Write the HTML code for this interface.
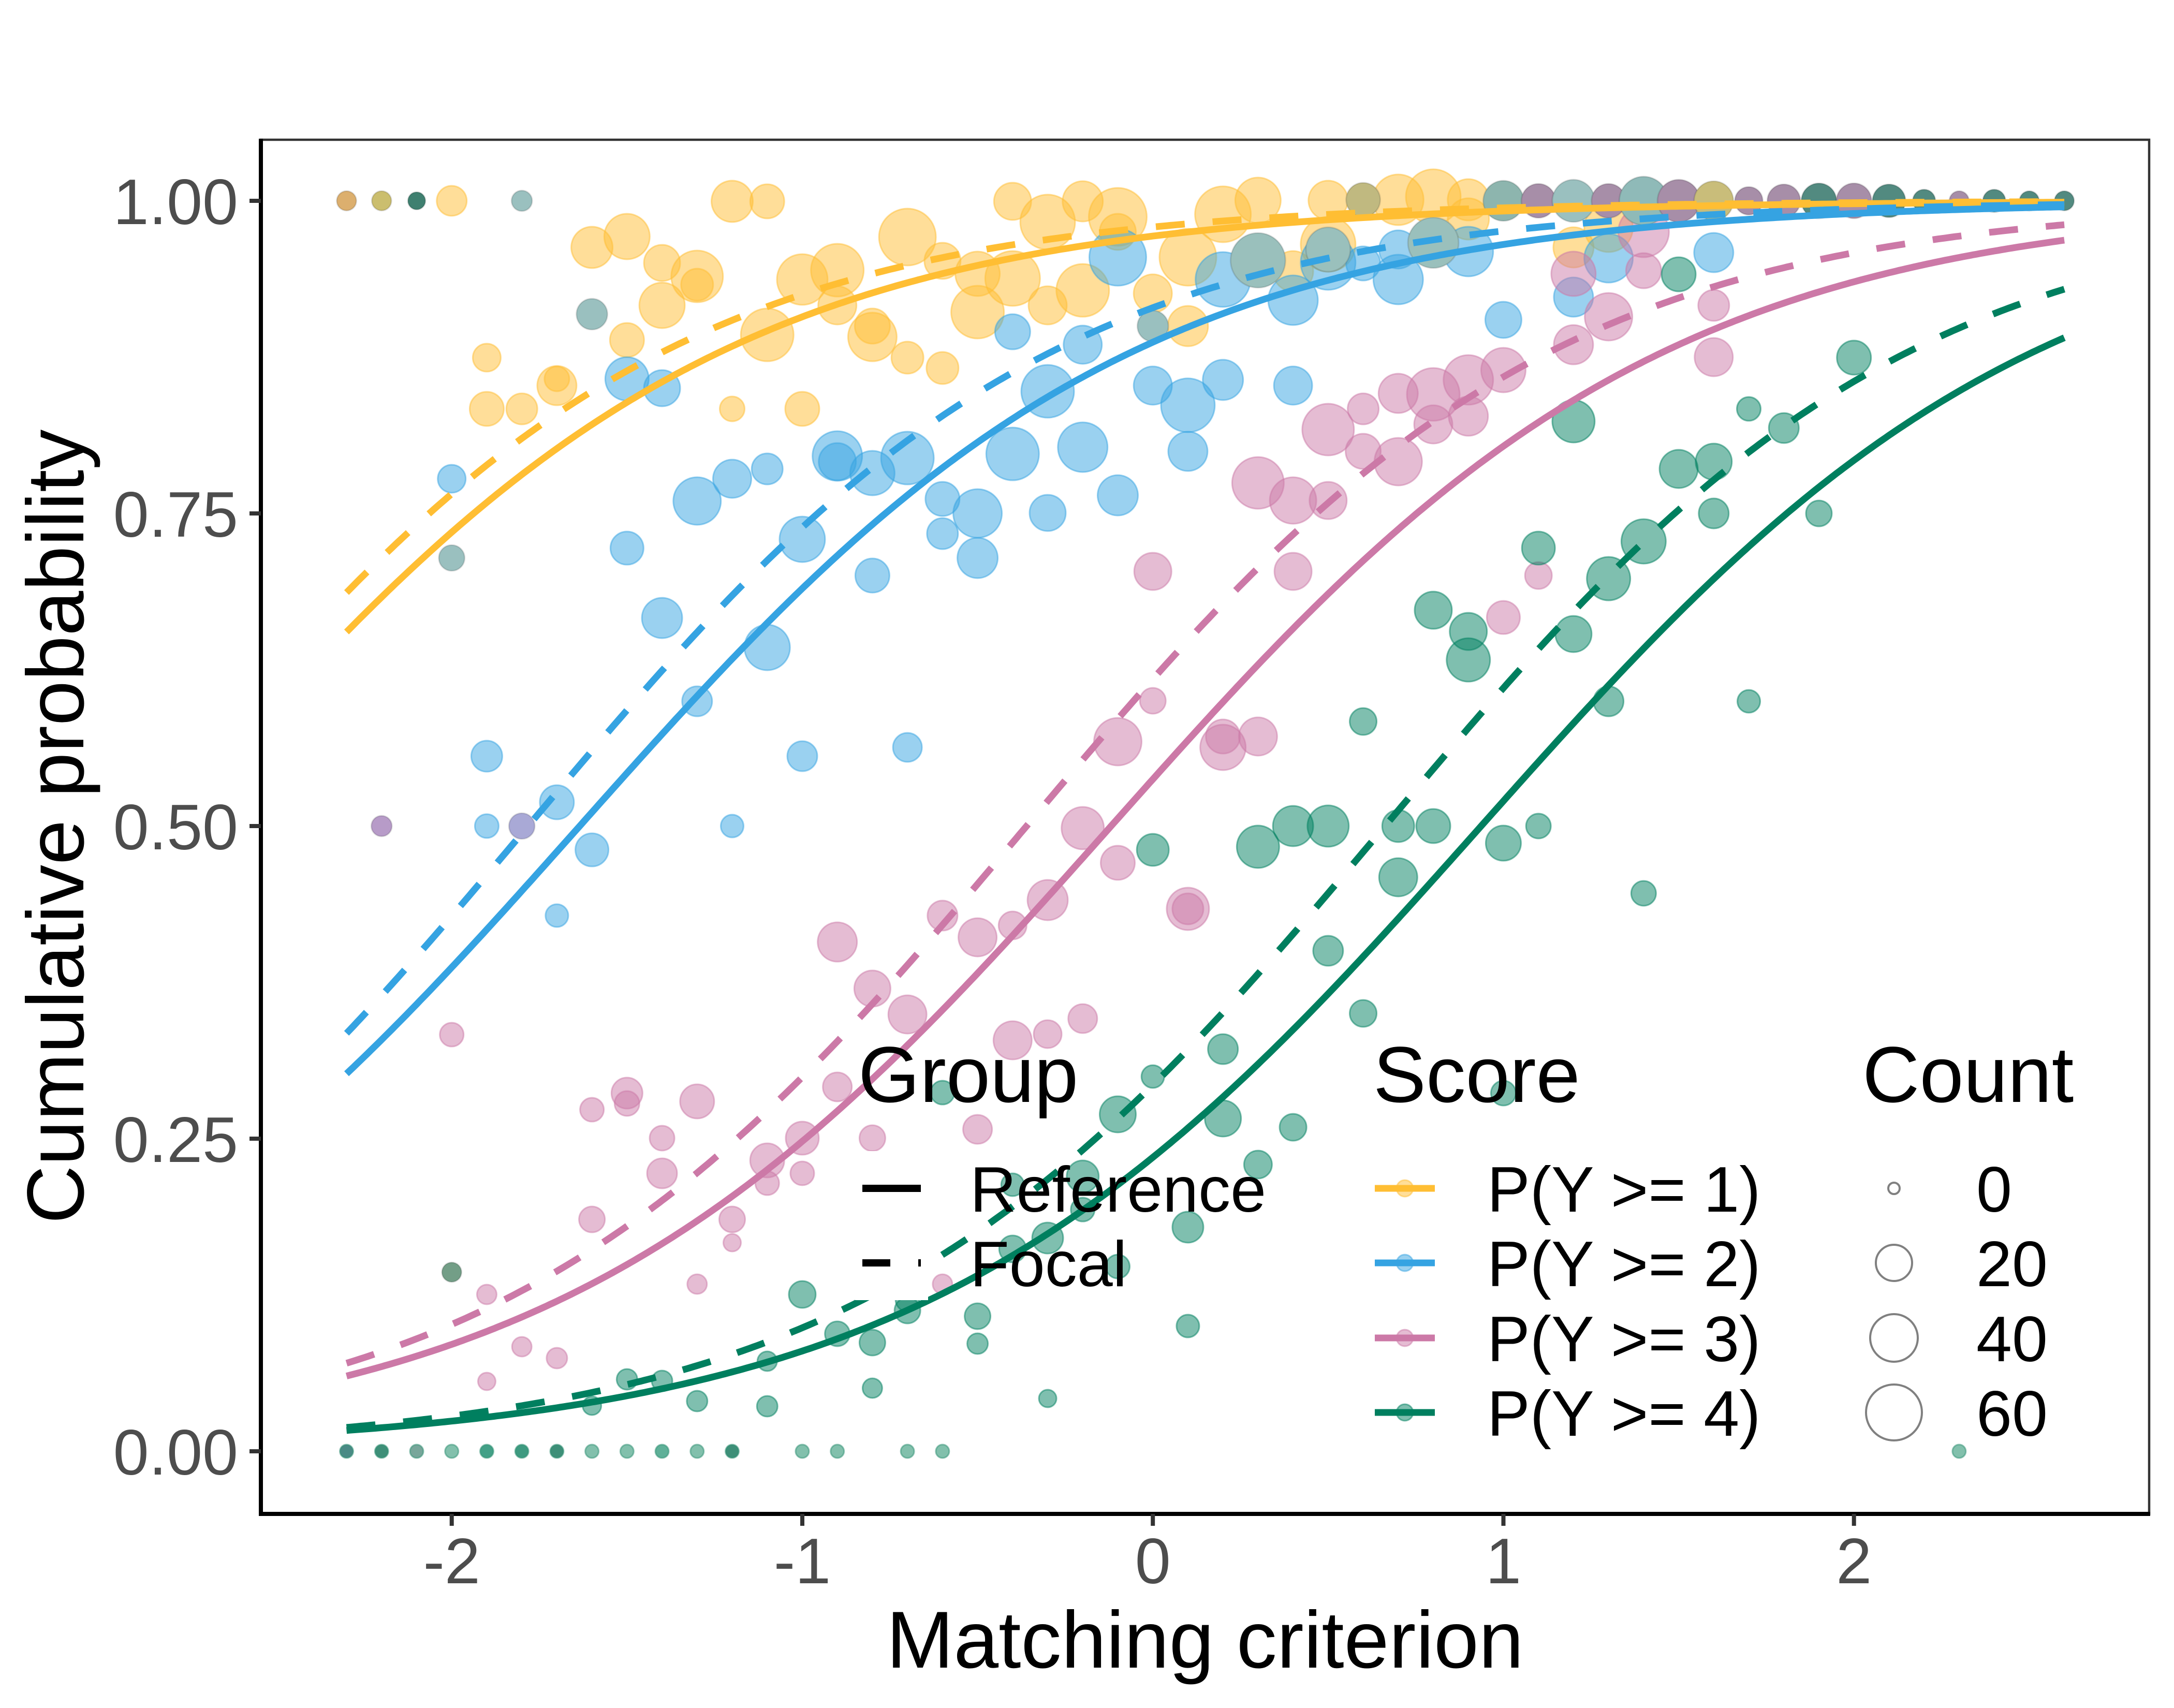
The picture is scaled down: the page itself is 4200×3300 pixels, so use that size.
<!DOCTYPE html>
<html><head><meta charset="utf-8">
<style>
html,body{margin:0;padding:0;background:#fff;}
svg{display:block;}
text{font-family:"Liberation Sans",Arial,sans-serif;}
</style></head>
<body>
<svg id="s" width="4200" height="3300" viewBox="0 0 4200 3300" xmlns="http://www.w3.org/2000/svg">
<rect width="4200" height="3300" fill="#fff"/>
<g id="pts"></g>
<g id="curves"></g>
<rect x="504" y="270" width="3648" height="2655" fill="none" stroke="#333" stroke-width="4.5"/>
<line x1="504" y1="268" x2="504" y2="2929" stroke="#000" stroke-width="8"/>
<line x1="500" y1="2925" x2="4154" y2="2925" stroke="#000" stroke-width="8"/>
<g stroke="#333" stroke-width="8">
<line x1="482" y1="388" x2="504" y2="388"/>
<line x1="482" y1="992" x2="504" y2="992"/>
<line x1="482" y1="1596" x2="504" y2="1596"/>
<line x1="482" y1="2200" x2="504" y2="2200"/>
<line x1="482" y1="2804" x2="504" y2="2804"/>
<line x1="872.7" y1="2925" x2="872.7" y2="2948"/>
<line x1="1550" y1="2925" x2="1550" y2="2948"/>
<line x1="2227.2" y1="2925" x2="2227.2" y2="2948"/>
<line x1="2904.5" y1="2925" x2="2904.5" y2="2948"/>
<line x1="3581.7" y1="2925" x2="3581.7" y2="2948"/>
</g>
<g font-size="124" fill="#4D4D4D" text-anchor="end">
<text x="460" y="433">1.00</text>
<text x="460" y="1037">0.75</text>
<text x="460" y="1641">0.50</text>
<text x="460" y="2245">0.25</text>
<text x="460" y="2849">0.00</text>
</g>
<g font-size="124" fill="#4D4D4D" text-anchor="middle">
<text x="872.7" y="3059">-2</text>
<text x="1550" y="3059">-1</text>
<text x="2227.2" y="3059">0</text>
<text x="2904.5" y="3059">1</text>
<text x="3581.7" y="3059">2</text>
</g>
<text x="2328" y="3222" font-size="156" fill="#000" text-anchor="middle">Matching criterion</text>
<text transform="translate(161,1597) rotate(-90)" font-size="156" fill="#000" text-anchor="middle">Cumulative probability</text>

<!-- legend key backgrounds -->
<g fill="#fff">
<rect x="1652" y="2224" width="141" height="288"/>
<rect x="2642" y="2224" width="144" height="577"/>
<rect x="3587" y="2224" width="144" height="577"/>
</g>
<g id="legend"></g>
<g font-size="153" fill="#000">
<text x="1658" y="2129">Group</text>
<text x="2653" y="2129">Score</text>
<text x="3598" y="2129">Count</text>
</g>
<g font-size="124" fill="#000">
<text x="1874" y="2341">Reference</text>
<text x="1874" y="2485">Focal</text>
<text x="2873" y="2341">P(Y &gt;= 1)</text>
<text x="2873" y="2485">P(Y &gt;= 2)</text>
<text x="2873" y="2630">P(Y &gt;= 3)</text>
<text x="2873" y="2774">P(Y &gt;= 4)</text>
<text x="3818" y="2341">0</text>
<text x="3818" y="2485">20</text>
<text x="3818" y="2630">40</text>
<text x="3818" y="2774">60</text>
</g>
</svg>
<script>
(function(){
var NS="http://www.w3.org/2000/svg";
function X(v){return 2227.2+v*677.25;}
function Yp(p){return 2804-p*2416;}
var C={y:'#FFBE33',b:'#35A3E2',p:'#CC79A7',g:'#007F5F'};
function el(tag,attrs,parent){var e=document.createElementNS(NS,tag);for(var k in attrs)e.setAttribute(k,attrs[k]);parent.appendChild(e);return e;}
var pts=document.getElementById('pts');
function cat(k,list){list.forEach(function(d){el('circle',{cx:X(d[0]),cy:d[1],r:d[2],fill:C[k],'fill-opacity':0.5,stroke:C[k],'stroke-opacity':0.5,'stroke-width':3},pts);});}
function comp(list){list.forEach(function(d){el('circle',{cx:X(d[0]),cy:d[1],r:d[2],fill:d[3],stroke:'rgba(0,0,0,0.12)','stroke-width':3},pts);});}

cat('y',[[-2.0,388,29],[-1.2,389,40],[-1.1,389,33],[-1.6,478,40],[-1.5,457,44],[-1.4,508,35],[-1.3,534,50],[-1.3,550,31],[-1.4,590,44],[-1.5,657,33],[-1.9,691,27],[-1.7,745,38],[-1.7,732,24],[-1.9,790,33],[-1.8,790,30],[-1.2,790,24],[-1.0,790,33],[-1.0,540,49],[-0.9,522,51],[-0.9,590,37],[-1.1,647,51],[-0.8,651,47],[-0.8,630,34],
[-0.7,458,55],[-0.4,389,36],[-0.3,429,53],[-0.2,389,39],[-0.1,419,56],[-0.1,448,35],[-0.6,504,35],[-0.5,529,43],[-0.4,538,53],[-0.5,603,51],[-0.3,590,37],[-0.2,561,51],[-0.7,691,31],[-0.6,711,31],[0.0,567,37],[0.1,497,55],[0.1,630,39],[0.2,414,54],[0.3,387,44],[0.5,387,38],[0.5,472,53],[0.4,524,39],[0.7,386,49],[0.8,380,53],[0.9,386,40],[0.9,423,40],[1.2,478,39],[1.3,440,47]]);

cat('b',[[-1.5,732,42],[-1.4,750,35],[-2.0,925,27],[-0.9,881,48],[-0.9,892,36],[-0.8,914,43],[-1.2,925,37],[-1.1,906,30],[-1.3,968,46],[-1.0,1042,44],[-1.5,1059,32],[-0.8,1112,33],[-1.4,1194,39],[-1.1,1251,44],[-1.3,1355,29],[-1.9,1461,30],[-1.0,1461,29],[-1.7,1550,33],[-1.9,1596,23],[-1.2,1596,22],
[-0.1,497,55],[-0.4,641,34],[-0.2,666,37],[-0.3,756,51],[-0.7,885,51],[0.0,745,37],[0.1,783,52],[0.2,734,39],[0.4,745,37],[0.1,872,38],[-0.4,877,51],[-0.2,864,48],[-0.6,964,33],[-0.5,992,47],[-0.6,1031,30],[-0.5,1078,39],[-0.3,991,35],[-0.1,957,39],[0.2,540,53],[0.4,580,48],[0.5,507,53],[0.6,509,33],[0.7,540,48],[0.7,482,37],[0.9,486,48],[1.0,618,35],[-0.7,1444,28],
[1.3,499,47],[1.2,574,38],[1.6,488,38],[-1.6,1642,32],[-1.7,1769,22]]);

cat('p',[[1.0,715,43],[0.9,734,48],[0.8,762,51],[0.7,760,38],[0.6,790,30],[0.5,830,50],[0.9,804,38],[0.8,820,37],[0.6,872,34],[0.7,892,46],[0.3,933,50],[0.4,967,45],[0.5,967,36],[0.0,1104,36],[0.4,1104,36],[1.0,1193,32],[0.0,1354,25],[-0.1,1433,46],[0.2,1423,33],[0.2,1444,44],[0.3,1423,37],[-0.2,1600,41],
[1.4,448,49],[1.2,529,43],[1.4,523,34],[1.3,612,46],[1.6,590,30],[1.2,666,38],[1.6,690,37],[1.1,1112,26],
[-0.9,1820,38],[-0.8,1910,35],[-0.9,2100,28],[-1.5,2112,30],[-1.5,2132,24],[-1.6,2144,23],[-1.3,2128,33],[-1.4,2199,24],[-1.0,2199,32],[-0.8,2199,25],[-1.4,2267,29],[-1.1,2242,33],[-1.1,2286,23],[-1.0,2267,23],[-1.6,2356,25],[-1.2,2356,25],[-1.2,2401,17],[-1.3,2481,19],[-1.9,2501,19],[-1.8,2602,19],[-1.7,2624,20],[-1.9,2669,17],[-2.0,1999,23],
[-0.1,1667,33],[-0.6,1769,29],[-0.5,1811,37],[-0.4,1788,27],[-0.3,1739,39],[0.1,1756,41],[0.1,1756,30],[-0.7,1960,37],[-0.2,1968,28],[-0.4,2010,37],[-0.3,1998,27],[-0.5,2182,28],[-0.6,2481,19]]);

cat('g',[[0.8,1179,36],[0.9,1220,36],[0.9,1275,42],[0.6,1394,26],[2.0,691,33],[1.2,814,41],[1.7,790,23],[1.8,827,29],[1.5,906,37],[1.6,892,35],[1.6,992,29],[1.9,992,25],[1.1,1059,32],[1.4,1046,43],[1.3,1118,42],[1.2,1225,35],[1.3,1355,29],[1.7,1355,22],[1.1,1596,24],[1.5,530,33],[1.4,1726,24],
[0.0,1642,31],[0.3,1636,41],[0.4,1596,39],[0.5,1596,40],[0.7,1596,31],[0.8,1596,33],[1.0,1629,34],[0.7,1695,37],[0.5,1837,29],[0.6,1958,26],[0.2,2027,29],[0.0,2080,22],[-0.6,2111,23],[-0.1,2153,35],[0.2,2161,35],[0.4,2178,26],[1.0,2112,24],[0.3,2250,27],[-0.2,2273,31],[-0.4,2289,22],[-0.2,2337,23],[0.1,2371,30],[-0.3,2392,30],[-0.4,2413,26],[-0.1,2447,23],[-0.7,2511,23],[-0.7,2532,25],[-0.5,2543,25],[-0.5,2596,20],[0.1,2562,22],[-0.3,2702,17],
[-1.0,2501,26],[-0.9,2577,24],[-0.8,2594,25],[-1.5,2665,20],[-1.4,2668,20],[-1.1,2630,19],[-1.6,2716,18],[-1.3,2707,20],[-1.1,2717,20],[-0.8,2682,19]]);

comp([[-2.3,388,19,'#DCAF6E'],[-2.2,388,19,'#CBBE6E'],[-2.1,388,17,'#3F8070'],[-1.8,388,20,'#9AC0BF'],[0.6,386,33,'#C0B980'],[1.0,388,39,'#8DB5AE'],[1.1,388,33,'#A78EA8'],[1.2,388,41,'#9AC0BF'],[1.3,388,33,'#A78EA8'],[1.4,388,47,'#8FBAB8'],[1.5,388,41,'#A78EA8'],[1.6,388,38,'#C9BD7A'],[1.7,388,27,'#A78EA8'],[1.8,388,32,'#A78EA8'],[1.9,388,34,'#528A80'],[2.0,388,34,'#A78EA8'],[2.1,388,32,'#528A80'],[2.2,388,22,'#528A80'],[2.3,388,19,'#A78EA8'],[2.4,388,22,'#528A80'],[2.5,388,19,'#528A80'],[2.6,388,19,'#528A80'],
[0.3,503,53,'#9AC0BC'],[0.5,482,43,'#9AC0BC'],[0.8,469,49,'#9AC0BC'],[-1.6,607,30,'#9AC0BF'],[-2.0,1078,25,'#9AC0BF'],[0.0,630,30,'#9AC0BF'],
[-2.2,1596,20,'#B79BC8'],[-1.8,1596,25,'#A9A9D6'],[-2.0,2458,19,'#739E87']]);

var zero=[[-2.3,'#4A8A85'],[-2.2,'#3E8F78'],[-2.1,'#78A69A'],[-2.0,'#82C0AC'],[-1.9,'#43A087'],[-1.8,'#3E9A80'],[-1.7,'#3E8F78'],[-1.6,'#82C0AC'],[-1.5,'#82C0AC'],[-1.4,'#5FB098'],[-1.3,'#82C0AC'],[-1.2,'#3E8F78'],[-1.0,'#82C0AC'],[-0.9,'#82C0AC'],[-0.7,'#82C0AC'],[-0.6,'#82C0AC'],[2.3,'#82C0AC']];
zero.forEach(function(d){el('circle',{cx:X(d[0]),cy:2804,r:13,fill:d[1],stroke:'#2E8F72','stroke-opacity':0.5,'stroke-width':3},pts);});

var cv=document.getElementById('curves');
function curve(a,b,col,dash){var s='';for(var i=0;i<=490;i++){var v=-2.3+i*0.01;var p=1/(1+Math.exp(-(a+b*v)));s+=(i?'L':'M')+X(v).toFixed(1)+','+Yp(p).toFixed(1);}
var at={d:s,fill:'none',stroke:col,'stroke-width':13,'stroke-linecap':'butt','stroke-linejoin':'round'};if(dash)at['stroke-dasharray']='56 54';el('path',at,cv);}
var rb=1.26, fb=1.33;
curve(3.54,rb,C.y,false);curve(3.844,fb,C.y,true);
curve(2.06,rb,C.b,false);curve(2.37,fb,C.b,true);
curve(0.15,rb,C.p,false);curve(0.479,fb,C.p,true);
curve(-1.18,rb,C.g,false);curve(-0.881,fb,C.g,true);

var lg=document.getElementById('legend');
el('line',{x1:1666,y1:2296,x2:1779,y2:2296,stroke:'#000','stroke-width':14},lg);
el('line',{x1:1666,y1:2440,x2:1779,y2:2440,stroke:'#000','stroke-width':14,'stroke-dasharray':'54 54'},lg);
var rows=[2296,2440,2585,2729],ks=['y','b','p','g'];
rows.forEach(function(y,i){var c=C[ks[i]];
el('circle',{cx:2714,cy:y,r:16,fill:c,'fill-opacity':0.5,stroke:c,'stroke-opacity':0.5,'stroke-width':3},lg);
el('line',{x1:2656,y1:y,x2:2772,y2:y,stroke:c,'stroke-width':13},lg);});
[11,35,46,54].forEach(function(r,i){el('circle',{cx:3659,cy:rows[i],r:r,fill:'none',stroke:'#808080','stroke-width':4},lg);});
})();
</script>
</body></html>
